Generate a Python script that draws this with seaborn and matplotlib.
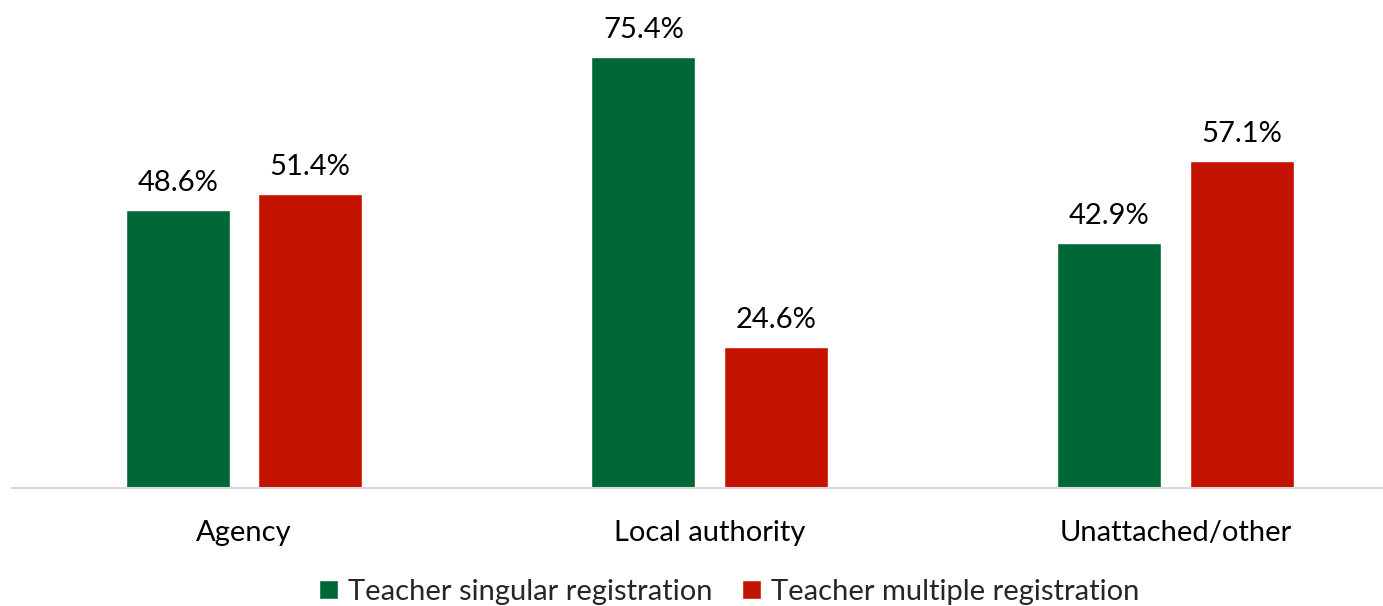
import pandas as pd
import seaborn as sns
from matplotlib import pyplot as plt
from matplotlib.patches import Patch

categories = ["Agency", "Local authority", "Unattached/other"]
series = ["Teacher singular registration", "Teacher multiple registration"]
singular = [48.6, 75.4, 42.9]
multiple = [51.4, 24.6, 57.1]
colors = ["#006837", "#C41200"]

df = pd.DataFrame({
    "category": categories * 2,
    "series": [series[0]] * 3 + [series[1]] * 3,
    "value": singular + multiple,
})

sns.set_style("white")
plt.rcParams['font.family'] = ['Lato', 'DejaVu Sans']

fig = plt.figure(figsize=(13.83, 6.06), dpi=100)
ax = fig.add_axes([12 / 1383, 118 / 606, 1 - 12 / 1383, 457.6 / 606])

sns.barplot(data=df, x="category", y="value", hue="series", palette=colors,
            width=0.569, gap=0.215, saturation=1, ax=ax, legend=False)

for cont in ax.containers:
    ax.bar_label(cont, labels=[f"{v:.1f}%" for v in cont.datavalues],
                 padding=10, fontsize=21, color="#000000")

ax.set_ylim(0, 80)
ax.set_xlim(-0.498, 2.446)
ax.set_xlabel("")
ax.set_ylabel("")
ax.set_yticks([])
ax.tick_params(axis="x", length=0, labelsize=21, pad=23, colors="#000000")
for s in ["top", "left", "right"]:
    ax.spines[s].set_visible(False)
ax.spines["bottom"].set_color("#D9D9D9")
ax.spines["bottom"].set_linewidth(1.5)

handles = [Patch(facecolor=c) for c in colors]
fig.legend(handles, series, loc="center", bbox_to_anchor=(729 / 1383, 1 - 592 / 606),
           ncol=2, frameon=False, fontsize=21, handlelength=0.65, handleheight=0.65,
           handletextpad=0.35, columnspacing=1.0)

fig.savefig("out.png", dpi=100)
